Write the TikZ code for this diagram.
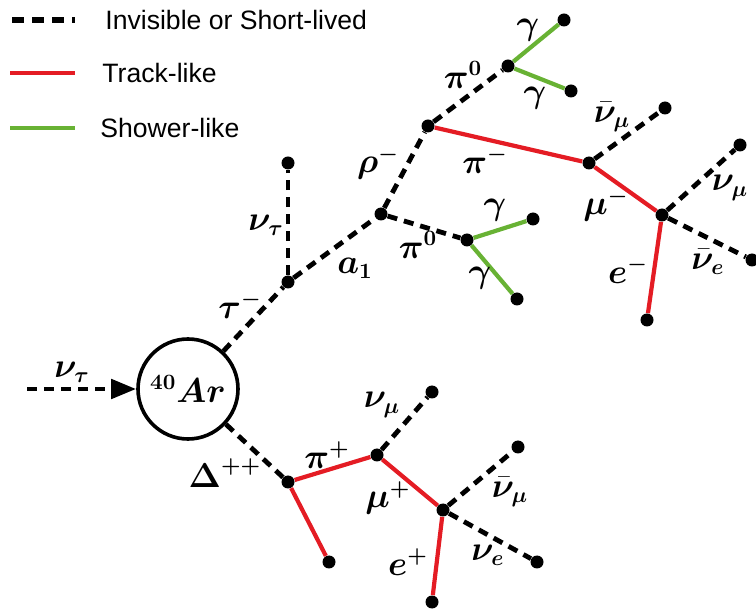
\documentclass[tikz,border=0pt]{standalone}
\usepackage{fontspec}
\setsansfont{Liberation Sans}
\usepackage{bm}
\usetikzlibrary{arrows.meta}

\definecolor{trackred}{RGB}{228,28,36}
\definecolor{showergreen}{RGB}{104,178,52}

\begin{document}
\begin{tikzpicture}[
    x=0.5pt, y=-0.5pt,
    vtx/.style={circle, fill=black, inner sep=0pt, minimum size=6.5pt},
    inv/.style={line width=2.4pt, dash pattern=on 5pt off 3.5pt},
    trk/.style={line width=2.1pt, draw=trackred},
    shw/.style={line width=2.1pt, draw=showergreen},
    lbl/.style={font=\fontsize{16}{18}\selectfont, inner sep=0pt},
    leg/.style={font=\sffamily\fontsize{13.3}{15}\selectfont, anchor=west, inner sep=0pt}
]
\useasboundingbox (0,0) rectangle (756,609);

% ------------------------------------------------------------------------------
% 1. LEYENDA
% ------------------------------------------------------------------------------
\coordinate (leg1a) at (12,20);  \coordinate (leg1b) at (75,20);
\coordinate (leg2a) at (10,73);  \coordinate (leg2b) at (75,73);
\coordinate (leg3a) at (10,128); \coordinate (leg3b) at (75,128);
\draw[line width=2.6pt, dash pattern=on 6pt off 4pt] (leg1a) -- (leg1b);
\draw[trk, line width=2.4pt] (leg2a) -- (leg2b);
\draw[shw, line width=2.4pt] (leg3a) -- (leg3b);
\node[leg] (leg1) at (105,20)  {Invisible or Short-lived};
\node[leg] (leg2) at (102,73)  {Track-like};
\node[leg] (leg3) at (100,128) {Shower-like};

% ------------------------------------------------------------------------------
% 2. NUCLEO Y VERTICES
% ------------------------------------------------------------------------------
\node[circle, draw, line width=1.8pt, minimum size=50pt, inner sep=0pt,
      font=\fontsize{16}{18}\selectfont] (ar) at (188,389) {$\bm{^{40}Ar}$};
\coordinate (nuin) at (27,389);

\node[vtx] (taudec) at (288,282) {};
\node[vtx] (nutau)  at (288,163) {};
\node[vtx] (a1dec)  at (381,214) {};
\node[vtx] (rhodec) at (428,126) {};
\node[vtx] (pizu)   at (508,66)  {};
\node[vtx] (gua)    at (564,20)  {};
\node[vtx] (gub)    at (571,91)  {};
\node[vtx] (pimdec) at (589,163) {};
\node[vtx] (anmu)   at (665,108) {};
\node[vtx] (mumdec) at (662,215) {};
\node[vtx] (nmum)   at (740,145) {};
\node[vtx] (anue)   at (752,260) {};
\node[vtx] (em)     at (647,320) {};
\node[vtx] (pizl)   at (467,240) {};
\node[vtx] (gla)    at (533,219) {};
\node[vtx] (glb)    at (517,299) {};
\node[vtx] (deldec) at (288,482) {};
\node[vtx] (prot)   at (329,562) {};
\node[vtx] (pipdec) at (377,455) {};
\node[vtx] (nmup)   at (432,392) {};
\node[vtx] (mupdec) at (443,510) {};
\node[vtx] (anmup)  at (518,447) {};
\node[vtx] (nuep)   at (537,562) {};
\node[vtx] (ep)     at (432,602) {};

% ------------------------------------------------------------------------------
% 3. TRAZAS
% ------------------------------------------------------------------------------
\draw[inv, -{Triangle[length=12.5pt, width=9.5pt]}] (nuin) -- (ar);
\foreach \a/\b in {ar/taudec, taudec/nutau, taudec/a1dec, a1dec/rhodec,
                   rhodec/pizu, pimdec/anmu, mumdec/nmum, mumdec/anue,
                   a1dec/pizl, ar/deldec, pipdec/nmup, mupdec/anmup, mupdec/nuep}
    \draw[inv] (\a) -- (\b);
\foreach \a/\b in {rhodec/pimdec, pimdec/mumdec, mumdec/em,
                   deldec/prot, deldec/pipdec, pipdec/mupdec, mupdec/ep}
    \draw[trk] (\a) -- (\b);
\foreach \a/\b in {pizu/gua, pizu/gub, pizl/gla, pizl/glb}
    \draw[shw] (\a) -- (\b);

% ------------------------------------------------------------------------------
% 4. ETIQUETAS
% ------------------------------------------------------------------------------
\node[lbl] (l-nuin)  at (72,372)  {$\bm{\nu_\tau}$};
\node[lbl] (l-tau)   at (240,305) {$\bm{\tau^{-}}$};
\node[lbl] (l-nutau) at (266,225) {$\bm{\nu_\tau}$};
\node[lbl] (l-a1)    at (355,268) {$\bm{a_1}$};
\node[lbl] (l-rho)   at (378,163) {$\bm{\rho^{-}}$};
\node[lbl] (l-pizu)  at (463,75)  {$\bm{\pi^0}$};
\node[lbl] (l-gua)   at (528,30)  {$\bm{\gamma}$};
\node[lbl] (l-gub)   at (535,98)  {$\bm{\gamma}$};
\node[lbl] (l-pim)   at (485,160) {$\bm{\pi^{-}}$};
\node[lbl] (l-anmu)  at (612,117) {$\bar{\bm{\nu}}_{\bm{\mu}}$};
\node[lbl] (l-mum)   at (606,205) {$\bm{\mu^{-}}$};
\node[lbl] (l-nmum)  at (730,188) {$\bm{\nu_\mu}$};
\node[lbl] (l-anue)  at (708,262) {$\bar{\bm{\nu}}_{\bm{e}}$};
\node[lbl] (l-em)    at (628,270) {$\bm{e^{-}}$};
\node[lbl] (l-pizl)  at (418,245) {$\bm{\pi^0}$};
\node[lbl] (l-gla)   at (495,210) {$\bm{\gamma}$};
\node[lbl] (l-glb)   at (480,278) {$\bm{\gamma}$};
\node[lbl] (l-del)   at (225,473) {$\bm{\Delta^{++}}$};
\node[lbl] (l-pip)   at (327,455) {$\bm{\pi^{+}}$};
\node[lbl] (l-nmup)  at (382,405) {$\bm{\nu_\mu}$};
\node[lbl] (l-mup)   at (388,498) {$\bm{\mu^{+}}$};
\node[lbl] (l-anmup) at (510,492) {$\bar{\bm{\nu}}_{\bm{\mu}}$};
\node[lbl] (l-nuep)  at (488,555) {$\bm{\nu_e}$};
\node[lbl] (l-ep)    at (408,562) {$\bm{e^{+}}$};

\end{tikzpicture}
\end{document}
